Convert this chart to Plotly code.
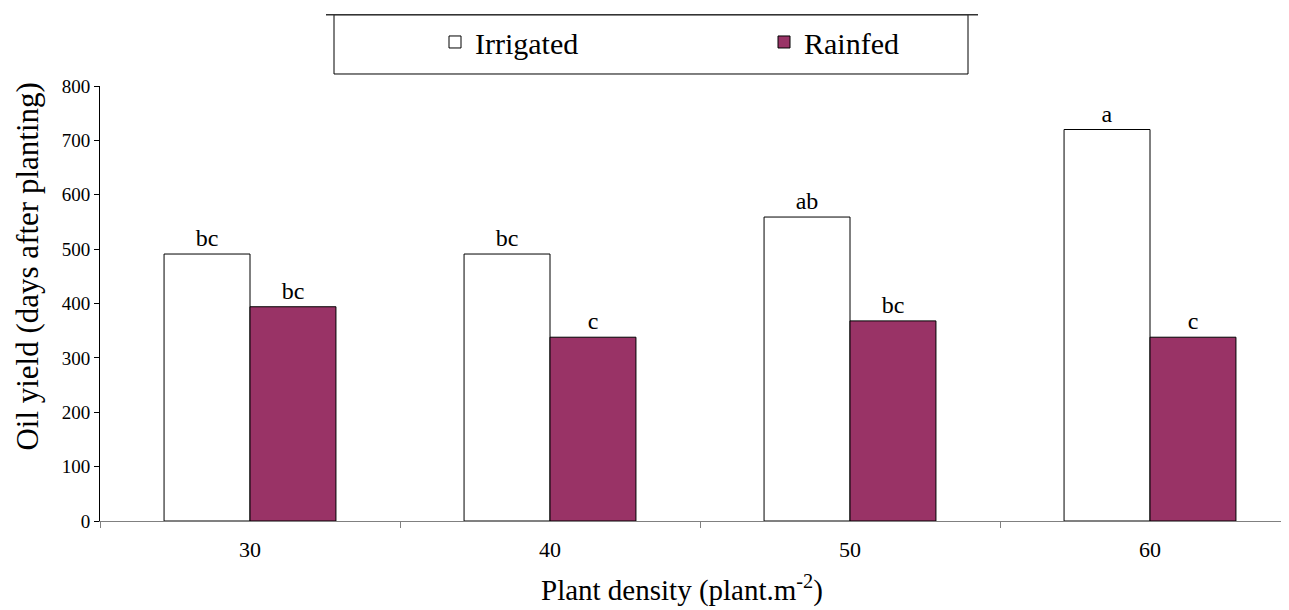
import plotly.graph_objects as go

categories = ["30", "40", "50", "60"]
irrigated = [491, 491, 559, 720]
rainfed = [394, 338, 368, 338]
irrigated_letters = ["bc", "bc", "ab", "a"]
rainfed_letters = ["bc", "c", "bc", "c"]
y_ticks = [0, 100, 200, 300, 400, 500, 600, 700, 800]

FONT = "Liberation Serif, Times New Roman, serif"

fig = go.Figure()
fig.add_trace(go.Bar(
    name="Irrigated", x=categories, y=irrigated,
    marker=dict(color="white", line=dict(color="black", width=1)),
    text=irrigated_letters, textposition="outside", constraintext="none",
    textfont=dict(family=FONT, size=24, color="black"),
    cliponaxis=False,
))
fig.add_trace(go.Bar(
    name="Rainfed", x=categories, y=rainfed,
    marker=dict(color="#993366", line=dict(color="black", width=1)),
    text=rainfed_letters, textposition="outside", constraintext="none",
    textfont=dict(family=FONT, size=24, color="black"),
    cliponaxis=False,
))

# page has an 8px body margin: figure coords = page coords - 8
W, H = 1289, 610
L, T = 92, 78
BOTTOM = 512.7
B = H - BOTTOM
plot_w = W - L
plot_h = BOTTOM - T

def px_x(px):
    return (px - L) / plot_w

def px_y(py):
    return (BOTTOM - py) / plot_h

fig.update_layout(
    width=W, height=H,
    margin=dict(l=L, r=0, t=T, b=B),
    paper_bgcolor="white", plot_bgcolor="white",
    barmode="group", bargap=0.427, bargroupgap=0,
    font=dict(family=FONT, color="black"),
    showlegend=True,
    legend=dict(
        orientation="h", x=px_x(427), y=px_y(34), xanchor="left", yanchor="middle",
        font=dict(family=FONT, size=30, color="black"),
        entrywidth=284, itemwidth=30,
        bgcolor="rgba(0,0,0,0)", borderwidth=0,
    ),
    xaxis=dict(
        range=[-0.5, -0.5 + plot_w / 300.0],
        showline=True, linecolor="#808080", linewidth=1,
        ticks="outside", tickson="boundaries", ticklen=6, tickcolor="#808080",
        tickfont=dict(family=FONT, size=22, color="black"),
        ticklabelstandoff=9,
        showgrid=False, zeroline=False,
    ),
    yaxis=dict(
        range=[0, 800], tickvals=y_ticks,
        showline=True, linecolor="black", linewidth=1,
        ticks="outside", ticklen=5, tickcolor="black",
        tickfont=dict(family=FONT, size=19, color="black"),
        showgrid=False, zeroline=False,
    ),
    annotations=[
        dict(text="Plant density (plant.m<sup>-2</sup>)", xref="paper", yref="paper",
             x=px_x(674), y=px_y(580), xanchor="center", yanchor="middle",
             showarrow=False, font=dict(family=FONT, size=29, color="black")),
        dict(text="Oil yield (days after planting)", xref="paper", yref="paper",
             x=px_x(19.5), y=px_y(259), xanchor="center", yanchor="middle",
             textangle=-90, showarrow=False,
             font=dict(family=FONT, size=31, color="black")),
    ],
    shapes=[
        dict(type="rect", xref="paper", yref="paper",
             x0=px_x(326), x1=px_x(960), y0=px_y(66), y1=px_y(6.7),
             line=dict(color="black", width=1), fillcolor="rgba(0,0,0,0)"),
        dict(type="line", xref="paper", yref="paper",
             x0=px_x(318), x1=px_x(970), y0=px_y(6.7), y1=px_y(6.7),
             line=dict(color="#333333", width=1.5)),
    ],
)

fig.write_html("out.html")
